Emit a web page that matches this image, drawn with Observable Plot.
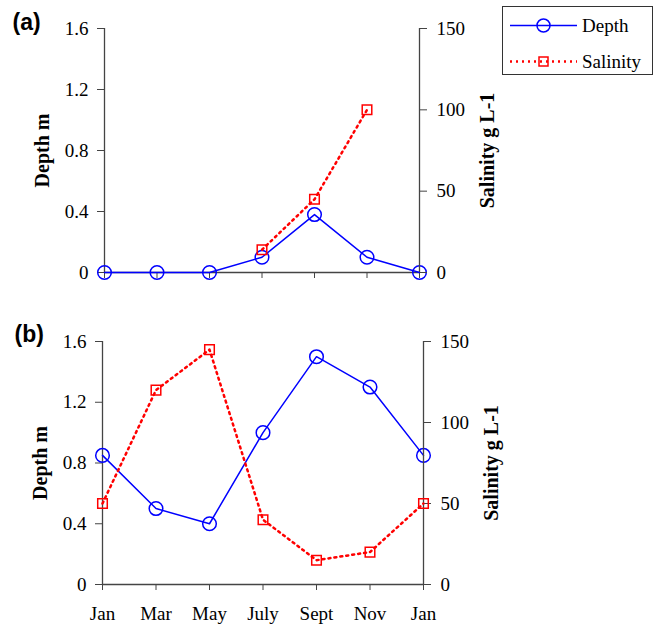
<!DOCTYPE html>
<html><head><meta charset="utf-8">
<script src="https://cdn.jsdelivr.net/npm/d3@7"></script>
<script src="https://cdn.jsdelivr.net/npm/@observablehq/plot@0.6"></script>
<style>
body{margin:0;background:#fff;}
#wrap{position:relative;width:659px;height:628px;font-family:"Liberation Serif",serif;overflow:hidden;}
.panel{position:absolute;left:0;width:659px;}
.panel svg{position:absolute;left:0;top:0;}
.panel g[aria-label$="tick label"], .panel g[aria-label$="tick label"] text{font-family:"Liberation Serif",serif !important;font-size:19px !important;fill:#000;}
#legend{position:absolute;left:502px;top:6px;width:151px;height:69px;box-sizing:border-box;border:1px solid #333;background:#fff;}
#legend svg{position:absolute;left:0;top:0;}
</style></head><body><div id="wrap"></div>
<script>
// ---- data ----
const months = ["Jan","Mar","May","July","Sept","Nov","Jan"];
const depthA = [0, 0, 0, 0.1, 0.38, 0.1, 0];
const salinityA = [null, null, null, 14, 45, 100, null];
const depthB = [0.85, 0.5, 0.4, 1.0, 1.5, 1.3, 0.85];
const salinityB = [50, 120, 145, 40, 15, 20, 50];
const depthTicks = [0, 0.4, 0.8, 1.2, 1.6];
const salinityTicks = [0, 50, 100, 150];
const depthDomain = [0, 1.6];
const salinityDomain = [0, 150];
const seriesNames = ["Depth", "Salinity"];
const panelTags = ["(a)", "(b)"];
const depthLabel = "Depth m";
const salinityLabel = "Salinity g L-1";

const W = 659;
const blue = "#0000ff", red = "#ff0000", axisCol = "#444";
const FONT = "Liberation Serif";
const depthFmt = d => d === 0 ? "0" : d3.format(".1f")(d);

function makePanel(cfg) {
  const rows = months.map((m, i) => ({i, m, depth: cfg.depth[i], sal: cfg.sal[i]}));
  const common = {
    width: W, height: cfg.height,
    marginTop: cfg.mt, marginBottom: cfg.mb, marginLeft: cfg.ml, marginRight: cfg.mr,
    style: {fontFamily: FONT, fontSize: "19px", color: "#000", background: "transparent", overflow: "visible"}
  };
  const txt = {fontFamily: FONT, fontSize: 19, fill: "#000"};
  const depthPlot = Plot.plot({
    ...common,
    x: {type: "linear", domain: [0, months.length - 1]},
    y: {domain: depthDomain},
    marks: [
      Plot.axisX({ticks: d3.range(months.length), tickSize: 6, tickPadding: 16, stroke: axisCol, ...txt,
        tickFormat: cfg.showX ? (i => months[i]) : (() => ""), label: null}),
      Plot.axisY({anchor: "left", ticks: depthTicks, tickSize: 7, tickPadding: 9, stroke: axisCol, ...txt,
        tickFormat: depthFmt, label: null}),
      Plot.ruleY([depthDomain[0]], {stroke: axisCol, strokeWidth: 1.3}),
      Plot.ruleX([0], {stroke: axisCol, strokeWidth: 1.3}),
      Plot.line(rows, {x: "i", y: "depth", stroke: blue, strokeWidth: 1.5}),
      Plot.dot(rows, {x: "i", y: "depth", r: 6.8, stroke: blue, strokeWidth: 1.5, fill: "none"}),
      Plot.text([depthLabel], {frameAnchor: "left", textAnchor: "middle", dx: -62, rotate: -90,
        fontFamily: FONT, fontWeight: "bold", fontSize: 20, fill: "#000"}),
      Plot.text([cfg.tag], {frameAnchor: "top-left", textAnchor: "start", lineAnchor: "bottom", dx: cfg.tagDx, dy: cfg.tagDy,
        fontFamily: "Liberation Sans", fontWeight: "bold", fontSize: 23, fill: "#000"})
    ]
  });
  const salPlot = Plot.plot({
    ...common,
    x: {type: "linear", domain: [0, months.length - 1], axis: null},
    y: {domain: salinityDomain},
    marks: [
      Plot.axisY({anchor: "right", ticks: salinityTicks, tickSize: 7, tickPadding: 10, stroke: axisCol, ...txt,
        tickFormat: d => String(d), label: null}),
      Plot.ruleX([months.length - 1], {stroke: axisCol, strokeWidth: 1.3}),
      Plot.line(rows, {x: "i", y: "sal", stroke: red, strokeWidth: 2.5, strokeDasharray: "2,4"}),
      Plot.dot(rows, {x: "i", y: "sal", symbol: "square", r: 5.4, stroke: red, strokeWidth: 1.5, fill: "none"}),
      Plot.text([salinityLabel], {frameAnchor: "right", textAnchor: "middle", dx: 68, rotate: -90,
        fontFamily: FONT, fontWeight: "bold", fontSize: 20, fill: "#000"})
    ]
  });
  const div = document.createElement("div");
  div.className = "panel";
  div.style.top = cfg.top + "px";
  div.style.height = cfg.height + "px";
  div.appendChild(depthPlot);
  div.appendChild(salPlot);
  return div;
}

const wrap = document.getElementById("wrap");
wrap.appendChild(makePanel({depth: depthA, sal: salinityA, top: 0, height: 300, mt: 28, mb: 28, ml: 104, mr: 240,
  showX: false, tag: panelTags[0], tagDx: -92, tagDy: 1}));
wrap.appendChild(makePanel({depth: depthB, sal: salinityB, top: 300, height: 328, mt: 41, mb: 44, ml: 102, mr: 236,
  showX: true, tag: panelTags[1], tagDx: -88, tagDy: 0}));

// ---- legend ----
const lg = document.createElement("div");
lg.id = "legend";
const ns = "http://www.w3.org/2000/svg";
const lsvg = document.createElementNS(ns, "svg");
lsvg.setAttribute("width", 151); lsvg.setAttribute("height", 69);
function el(tag, attrs, text) {
  const e = document.createElementNS(ns, tag);
  for (const k in attrs) e.setAttribute(k, attrs[k]);
  if (text) e.textContent = text;
  lsvg.appendChild(e);
  return e;
}
el("line", {x1: 7, x2: 74, y1: 18.5, y2: 18.5, stroke: blue, "stroke-width": 1.5});
el("circle", {cx: 40.5, cy: 18.5, r: 6.5, stroke: blue, "stroke-width": 1.5, fill: "none"});
el("text", {x: 79, y: 25, "font-family": FONT, "font-size": 19, fill: "#000"}, seriesNames[0]);
el("line", {x1: 7, x2: 74, y1: 54.5, y2: 54.5, stroke: red, "stroke-width": 2.5, "stroke-dasharray": "2,4"});
el("rect", {x: 36, y: 50, width: 9, height: 9, stroke: red, "stroke-width": 1.5, fill: "none"});
el("text", {x: 79, y: 61, "font-family": FONT, "font-size": 19, fill: "#000"}, seriesNames[1]);
lg.appendChild(lsvg);
wrap.appendChild(lg);
</script></body></html>
